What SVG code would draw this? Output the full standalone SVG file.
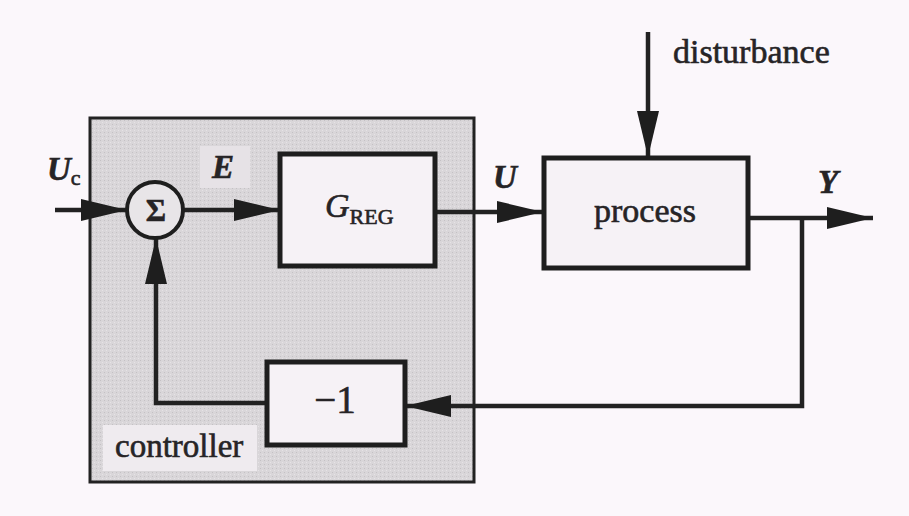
<svg xmlns="http://www.w3.org/2000/svg" width="909" height="516" viewBox="0 0 909 516">
  <defs>
    <style>
      .lbl { font-family: "Liberation Serif", "Times New Roman", serif; fill: #262426; stroke: #262426; stroke-width: 0.6; }
      .it { font-style: italic; font-weight: bold; }
      .wire { fill: none; stroke: #222; stroke-width: 4.5; }
      .blk { fill: #f6f2f6; stroke: #1e1e1e; stroke-width: 5; }
    </style>
    <marker id="head" markerUnits="userSpaceOnUse" markerWidth="48" markerHeight="22" refX="46" refY="11" orient="auto">
      <path d="M0,0 L46,11 L0,22 z" fill="#1e1e1e"/>
    </marker>
    <pattern id="grain" width="4" height="4" patternUnits="userSpaceOnUse">
      <rect width="4" height="4" fill="#d9d6d9"/>
      <rect x="0" y="0" width="1" height="1" fill="#c4c1c4"/>
      <rect x="2" y="2" width="1" height="1" fill="#e6e3e6"/>
    </pattern>
  </defs>

  <rect width="909" height="516" fill="#fbf7fb"/>

  <!-- controller enclosure -->
  <g id="controller">
    <rect x="90" y="118" width="384" height="364" fill="url(#grain)" stroke="#222" stroke-width="3"/>
    <rect x="103" y="425" width="154" height="46" fill="#efebef"/>
    <rect x="200" y="146" width="50" height="42" fill="#e6e2e6"/>
    <text class="lbl" x="115" y="457" font-size="33">controller</text>
  </g>

  <!-- connectors -->
  <g id="connectors">
    <line class="wire" x1="55" y1="210" x2="127" y2="210" marker-end="url(#head)"/>
    <line class="wire" x1="183" y1="210" x2="280" y2="210" marker-end="url(#head)"/>
    <line class="wire" x1="435" y1="212" x2="543" y2="212" marker-end="url(#head)"/>
    <line class="wire" x1="648" y1="32" x2="648" y2="157" stroke-width="3" marker-end="url(#head)"/>
    <line class="wire" x1="748" y1="218" x2="873" y2="218" marker-end="url(#head)"/>
    <polyline class="wire" points="802,218 802,406 405,406" marker-end="url(#head)"/>
    <polyline class="wire" points="267,403 156,403 156,238" marker-end="url(#head)"/>
  </g>

  <!-- summing junction -->
  <g id="sum">
    <circle cx="155" cy="210" r="28" fill="#e8e5e8" stroke="#1e1e1e" stroke-width="4"/>
    <text class="lbl" x="156" y="221" font-size="31" font-weight="bold" text-anchor="middle">Σ</text>
  </g>

  <!-- regulator block -->
  <g id="greg">
    <rect class="blk" x="280" y="154" width="155" height="112"/>
    <text class="lbl" x="325" y="217" font-size="34"><tspan font-style="italic">G</tspan><tspan font-size="22" dy="7">REG</tspan></text>
  </g>

  <!-- plant block -->
  <g id="process">
    <rect class="blk" x="544" y="158" width="204" height="110"/>
    <text class="lbl" x="645" y="222" font-size="34" text-anchor="middle">process</text>
  </g>

  <!-- feedback gain -->
  <g id="gain">
    <rect class="blk" x="267" y="362" width="138" height="83"/>
    <text class="lbl" x="335" y="413" font-size="39" text-anchor="middle">−1</text>
  </g>

  <!-- signal labels -->
  <g id="labels">
    <text class="lbl" x="47" y="180" font-size="33"><tspan class="it">U</tspan><tspan font-size="22" dy="5">c</tspan></text>
    <text class="lbl it" x="212" y="178" font-size="33">E</text>
    <text class="lbl it" x="493" y="188" font-size="33">U</text>
    <text class="lbl it" x="818" y="193" font-size="33">Y</text>
    <text class="lbl" x="673" y="63" font-size="34">disturbance</text>
  </g>
</svg>
